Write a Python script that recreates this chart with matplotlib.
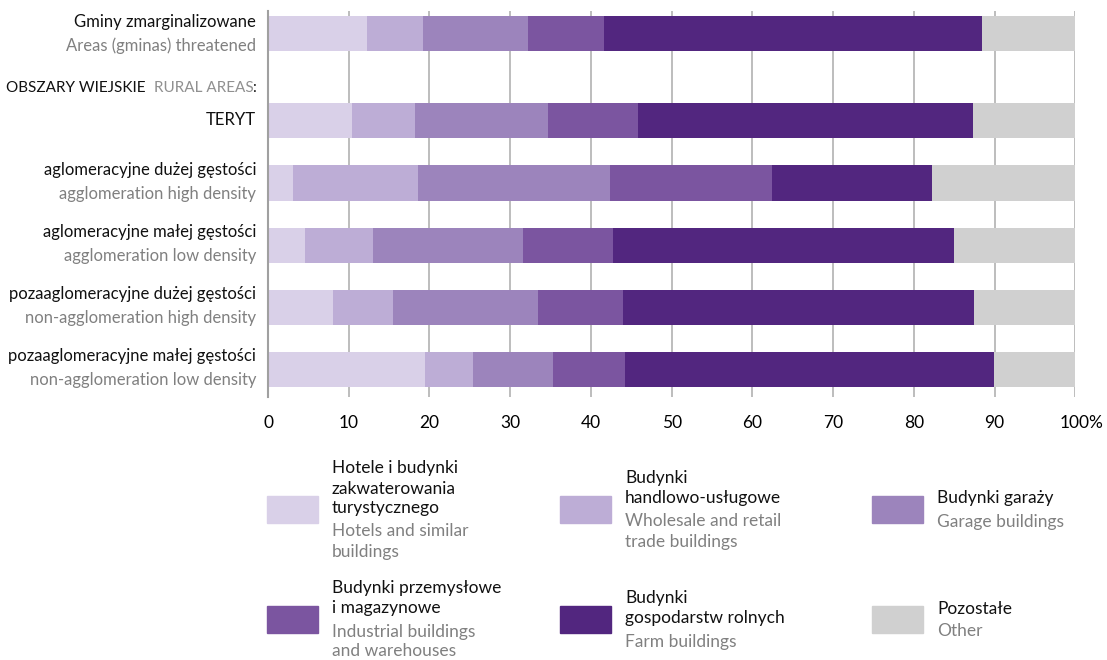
import matplotlib
matplotlib.use('Agg')
import matplotlib.pyplot as plt
import matplotlib.transforms as mtrans
import numpy as np

plt.rcParams['font.family'] = ['Lato', 'DejaVu Sans']

# rows, top to bottom
labels_pl = ['Gminy zmarginalizowane', 'TERYT', 'aglomeracyjne dużej gęstości',
             'aglomeracyjne małej gęstości', 'pozaaglomeracyjne dużej gęstości',
             'pozaaglomeracyjne małej gęstości']
labels_en = ['Areas (gminas) threatened', '', 'agglomeration high density',
             'agglomeration low density', 'non-agglomeration high density',
             'non-agglomeration low density']

hotels = [12.3, 10.4, 3.1, 4.6, 8.0, 19.4]
trade = [6.9, 7.8, 15.5, 8.4, 7.5, 6.0]
garage = [13.0, 16.5, 23.8, 18.6, 17.9, 9.9]
industrial = [9.4, 11.1, 20.0, 11.1, 10.6, 8.9]
farm = [46.8, 41.5, 19.8, 42.3, 43.4, 45.7]
other = [11.6, 12.7, 17.8, 15.0, 12.6, 10.1]

series = [hotels, trade, garage, industrial, farm, other]
colors = ['#d9d0e8', '#bdadd6', '#9c84bc', '#7b55a0', '#52267f', '#d0d0d0']
legend_pl = ['Hotele i budynki\nzakwaterowania\nturystycznego', 'Budynki\nhandlowo-usługowe',
             'Budynki garaży', 'Budynki przemysłowe\ni magazynowe',
             'Budynki\ngospodarstw rolnych', 'Pozostałe']
legend_en = ['Hotels and similar\nbuildings', 'Wholesale and retail\ntrade buildings',
             'Garage buildings', 'Industrial buildings\nand warehouses',
             'Farm buildings', 'Other']

W, H = 1107, 660
fig = plt.figure(figsize=(W / 100, H / 100), dpi=100)
ax = fig.add_axes([268 / W, 1 - 397 / H, (1075.3 - 268) / W, (397 - 11) / H])

ypos = np.array([0, 1.403, 2.403, 3.403, 4.403, 5.403])
left = np.zeros(len(ypos))
for vals, c in zip(series, colors):
    ax.barh(ypos, vals, left=left, height=0.565, color=c, zorder=2, linewidth=0)
    left += np.array(vals)

ax.set_xlim(0, 100)
ax.set_ylim(5.846, -0.363)
ax.set_xticks(range(0, 101, 10))
ax.set_xticklabels([str(v) for v in range(0, 100, 10)] + ['100%'], fontsize=12.5)
ax.tick_params(axis='x', length=0, pad=13)
# "100%" sits a bit to the right, like the number is centred, not the whole label
last = ax.get_xticklabels()[-1]
last.set_transform(last.get_transform() + mtrans.ScaledTranslation(6 / 100, 0, fig.dpi_scale_trans))
ax.set_yticks([])
ax.grid(axis='x', color='#b8b8b8', linewidth=1.3, zorder=0)
for s in ['top', 'right', 'bottom']:
    ax.spines[s].set_visible(False)
ax.spines['left'].set_color('#a0a0a0')
ax.spines['left'].set_linewidth(1.5)

# row labels
def px(x, y):
    return x / W, 1 - y / H

pxy = 62.0  # px per y unit
for i, y in enumerate(ypos):
    cy = 33.5 + y * pxy
    if labels_en[i]:
        fig.text(*px(256, cy - 12), labels_pl[i], ha='right', va='center', fontsize=12, color='#111111')
        fig.text(*px(256, cy + 12), labels_en[i], ha='right', va='center', fontsize=12, color='#808080')
    else:
        fig.text(*px(256, cy), labels_pl[i], ha='right', va='center', fontsize=12, color='#111111')

# header with mixed colours
fig.canvas.draw()
r = fig.canvas.get_renderer()
x_right = 256
for part, col, gap in [(':', '#111111', -2), ('RURAL AREAS', '#909090', 9), ('OBSZARY WIEJSKIE', '#111111', 0)]:
    t = fig.text(*px(x_right, 88), part, ha='right', va='center', fontsize=11, color=col)
    bb = t.get_window_extent(renderer=r)
    x_right -= bb.width + gap

# legend
sw_x = [267, 560, 872]
sw_y = [510, 620]
for k in range(6):
    col_i, row_i = k % 3, k // 3
    x0, cy = sw_x[col_i], sw_y[row_i]
    fig.patches.append(plt.Rectangle(px(x0, cy + 13), 51 / W, 27 / H,
                                     transform=fig.transFigure, color=colors[k]))
    lines = [(s, '#111111') for s in legend_pl[k].split('\n')] + \
            [(s, '#808080') for s in legend_en[k].split('\n')]
    n = len(lines)
    total = (n - 1) * 20 + 3
    y = cy - total / 2
    prev = None
    for s, c in lines:
        if prev is not None and prev != c:
            y += 3
        fig.text(*px(x0 + 65, y), s, ha='left', va='center', fontsize=12.5, color=c)
        y += 20
        prev = c

fig.savefig('out.png', dpi=100)
